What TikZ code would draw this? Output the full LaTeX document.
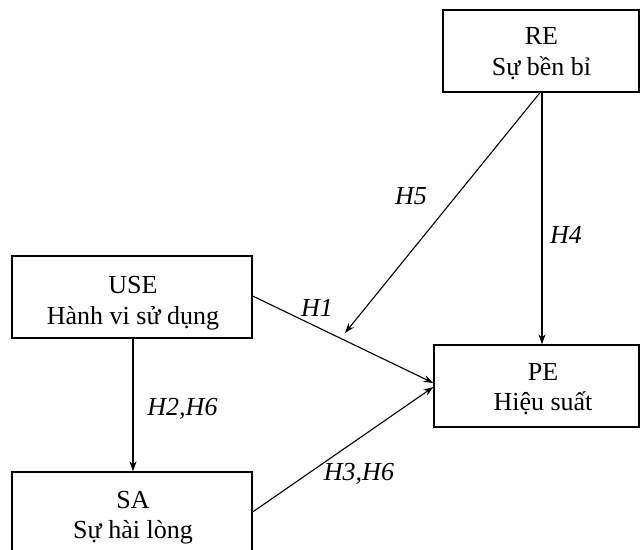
\documentclass[tikz,border=0pt]{standalone}
\usepackage{fontspec}
\setmainfont{Liberation Serif}
\usetikzlibrary{arrows.meta}
\begin{document}
\begin{tikzpicture}[x=1pt,y=-1pt,
  box/.style={draw, line width=1.3pt, rectangle, inner sep=0pt},
  txt/.style={anchor=base, inner sep=0pt, font=\fontsize{26}{30}\selectfont},
  link/.style={line width=1.1pt, -{Stealth[length=10pt,width=7pt]}},
  hyp/.style={anchor=base, inner sep=0pt, font=\fontsize{26}{30}\selectfont\itshape}]
  \useasboundingbox (0,0) rectangle (640,549);
  \clip (0,0) rectangle (640,549);
  % construct boxes
  \node[box, minimum width=196pt, minimum height=82pt] (re) at (541,51) {};
  \node[box, minimum width=240pt, minimum height=82pt] (use) at (132,297) {};
  \node[box, minimum width=205pt, minimum height=82pt] (pe) at (536.5,386) {};
  \node[box, minimum width=240pt, minimum height=88pt] (sa) at (132,516) {};
  % construct names
  \node[txt] (re1) at (541.5,44) {RE};
  \node[txt] (re2) at (541.5,75) {Sự bền bỉ};
  \node[txt] (use1) at (133,293) {USE};
  \node[txt] (use2) at (133,324) {Hành vi sử dụng};
  \node[txt] (pe1) at (543,380) {PE};
  \node[txt] (pe2) at (543,410) {Hiệu suất};
  \node[txt] (sa1) at (133,508) {SA};
  \node[txt] (sa2) at (133,538) {Sự hài lòng};
  % free end of the moderating path
  \coordinate (h5end) at (345,333);
  % paths
  \draw[link] (re.south -| 542,0) -- (pe.north -| 542,0);
  \draw[link] (re.south -| 540,0) -- (h5end);
  \draw[link] (use.east |- 0,296) -- (pe.west |- 0,383);
  \draw[link] (sa.east |- 0,512) -- (pe.west |- 0,387);
  \draw[link] (use.south -| 133,0) -- (sa.north -| 133,0);
  % hypothesis labels
  \node[hyp] (lh5) at (411,204) {H5};
  \node[hyp] (lh4) at (566,243) {H4};
  \node[hyp] (lh1) at (317,316) {H1};
  \node[hyp] (lh26) at (182.5,415) {H2,H6};
  \node[hyp] (lh36) at (359,480) {H3,H6};
\end{tikzpicture}
\end{document}
